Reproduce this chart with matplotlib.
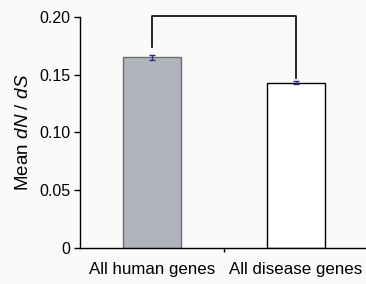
import matplotlib as mpl
import matplotlib.pyplot as plt

mpl.rcParams.update({
    "font.family": "Liberation Sans", "font.size": 11.5,
    "mathtext.fontset": "custom", "mathtext.it": "Liberation Sans:italic",
    "mathtext.rm": "Liberation Sans",
})

categories = ["All human genes", "All disease genes"]
means = [0.165, 0.143]
errors = [0.0025, 0.0012]
bracket_top = 0.201
bracket_legs = [0.174, 0.147]

fig = plt.figure(figsize=(3.66, 2.84), dpi=100, facecolor="#fafafa")
ax = fig.add_axes([0.2186, 0.127, 0.787, 0.813])
ax.set_facecolor("#fafafa")

x = range(len(categories))
ax.bar(x, means, width=0.4, color=["#b1b4bc", "white"],
       edgecolor=["#6e6e6e", "black"], linewidth=1.0)
ax.errorbar(x, means, yerr=errors, fmt="none", ecolor="#2b2b80",
            elinewidth=1.0, capsize=2.5, capthick=1.0)

# significance bracket
ax.plot([0, 0, 1, 1], [bracket_legs[0], bracket_top, bracket_top, bracket_legs[1]],
        color="black", lw=1.2, clip_on=False)

ax.set_xlim(-0.5, 1.5)
ax.set_ylim(0, 0.20)
ax.set_yticks([0, 0.05, 0.10, 0.15, 0.20])
ax.set_yticklabels(["0", "0.05", "0.10", "0.15", "0.20"])
ax.set_xticks([0.5])
ax.set_xticklabels([""])
ax.tick_params(axis="x", length=3, width=1)
ax.tick_params(axis="y", length=4, width=1, pad=3)
for i, c in enumerate(categories):
    ax.text(i, -0.012, c, ha="center", va="top", fontsize=12.2)
for s in ["top", "right"]:
    ax.spines[s].set_visible(False)
for s in ["left", "bottom"]:
    ax.spines[s].set_linewidth(1.0)
ax.set_ylabel(r"Mean $d_{}N$ / $d_{}S$", fontsize=13.5, labelpad=7)

fig.savefig("out.png", dpi=100, facecolor=fig.get_facecolor())
